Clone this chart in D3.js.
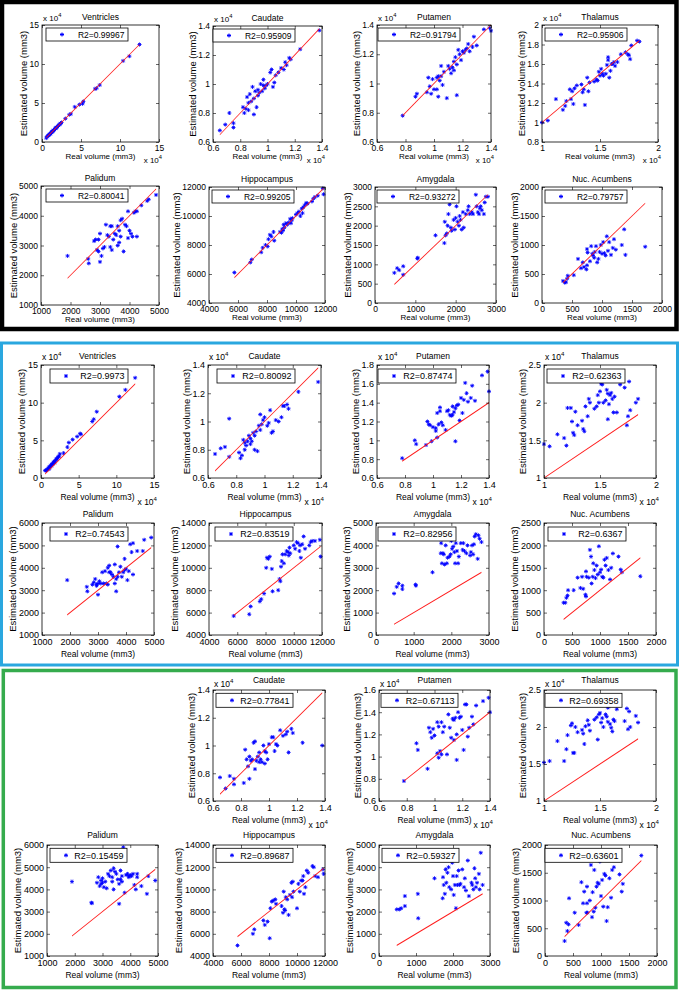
<!DOCTYPE html>
<html>
<head>
<meta charset="utf-8">
<script src="https://cdn.jsdelivr.net/npm/d3@7"></script>
<style>
  body { margin: 0; background: #fff; }
  svg { display: block; font-family: "Liberation Sans", Arial, Helvetica, sans-serif; }
</style>
</head>
<body>
<svg id="fig" width="682" height="992"></svg>
<script>
// ---- data ----
const structureNames = ["Ventricles", "Caudate", "Putamen", "Thalamus", "Palidum", "Hippocampus", "Amygdala", "Nuc. Acumbens"];
// structures whose axes are shown in units of 10^4 mm3
const scaledBy1e4 = [true, true, true, true, false, false, false, false];

const xAxisTicks = [
  [0, 5, 10, 15],
  [0.6, 0.8, 1, 1.2, 1.4],
  [0.6, 0.8, 1, 1.2, 1.4],
  [1, 1.5, 2],
  [1000, 2000, 3000, 4000, 5000],
  [4000, 6000, 8000, 10000, 12000],
  [0, 1000, 2000, 3000],
  [0, 500, 1000, 1500, 2000],
];

// real volumes (x), shared by the three panels
const ventriclesReal = [0.55, 0.65, 0.75, 0.8, 0.9, 1.0, 1.05, 1.1, 1.2, 1.25, 1.3, 1.4, 1.45, 1.5, 1.6, 1.7, 1.75, 1.8, 1.9, 2.0, 2.1, 2.2, 2.3, 2.4, 2.5, 3.0, 3.5, 3.7, 4.2, 4.8, 5.2, 5.3, 6.8, 7.0, 7.4, 10.4, 11.2, 12.5];
const caudateReal = [0.65, 0.69, 0.72, 0.75, 0.75, 0.82, 0.83, 0.84, 0.85, 0.86, 0.86, 0.87, 0.88, 0.89, 0.9, 0.9, 0.91, 0.92, 0.93, 0.93, 0.94, 0.95, 0.96, 0.97, 0.97, 0.98, 0.99, 1.0, 1.02, 1.03, 1.04, 1.05, 1.06, 1.08, 1.1, 1.12, 1.13, 1.14, 1.16, 1.17, 1.24, 1.38];
const putamenReal = [0.78, 0.87, 0.88, 0.95, 0.96, 0.97, 0.98, 0.99, 1.0, 1.02, 1.02, 1.03, 1.03, 1.04, 1.05, 1.05, 1.06, 1.07, 1.09, 1.1, 1.11, 1.12, 1.13, 1.14, 1.14, 1.15, 1.16, 1.16, 1.17, 1.18, 1.19, 1.2, 1.21, 1.22, 1.23, 1.24, 1.25, 1.27, 1.28, 1.3, 1.35, 1.39, 1.4];
const thalamusReal = [1.0, 1.05, 1.12, 1.18, 1.2, 1.21, 1.24, 1.25, 1.26, 1.27, 1.28, 1.3, 1.34, 1.35, 1.36, 1.37, 1.39, 1.4, 1.41, 1.45, 1.47, 1.48, 1.49, 1.5, 1.51, 1.52, 1.53, 1.55, 1.56, 1.57, 1.57, 1.58, 1.59, 1.6, 1.61, 1.62, 1.63, 1.65, 1.68, 1.72, 1.74, 1.75, 1.76, 1.77, 1.82, 1.84];
const palidumReal = [1900, 2600, 2620, 2800, 2850, 2900, 2950, 2950, 3000, 3000, 3050, 3100, 3150, 3200, 3250, 3300, 3350, 3350, 3400, 3400, 3450, 3500, 3550, 3600, 3600, 3650, 3650, 3700, 3700, 3750, 3800, 3850, 3900, 3950, 3950, 4000, 4050, 4100, 4150, 4200, 4250, 4250, 4400, 4600, 4650, 4900];
const hippocampusReal = [5750, 6850, 6950, 7600, 7700, 7900, 8050, 8100, 8200, 8300, 8450, 8500, 8900, 9000, 9050, 9100, 9150, 9200, 9300, 9400, 9500, 9600, 9650, 9700, 9750, 10000, 10100, 10200, 10300, 10400, 10450, 10500, 10600, 10700, 10800, 11100, 11200, 11300, 11500, 11850, 11900];
const amygdalaReal = [480, 550, 600, 700, 700, 1050, 1060, 1500, 1720, 1730, 1750, 1780, 1800, 1820, 1850, 1880, 1900, 1950, 1980, 2000, 2020, 2050, 2080, 2100, 2120, 2150, 2180, 2200, 2250, 2300, 2320, 2350, 2400, 2430, 2500, 2520, 2550, 2580, 2600, 2620, 2650, 2700, 2720, 2750, 2800];
const nucAcumbensReal = [350, 380, 400, 420, 430, 530, 600, 650, 680, 700, 740, 750, 750, 760, 800, 820, 840, 850, 870, 880, 900, 920, 940, 960, 980, 1000, 1020, 1040, 1060, 1080, 1100, 1120, 1150, 1180, 1200, 1230, 1330, 1370, 1390, 1720];

// estimated volumes, panel 1 (black frame)
const ventriclesEst1 = [0.5, 0.7, 0.75, 0.85, 0.9, 1.0, 1.1, 1.05, 1.2, 1.3, 1.3, 1.4, 1.5, 1.5, 1.6, 1.7, 1.8, 1.8, 1.9, 2.0, 2.1, 2.2, 2.3, 2.4, 2.5, 3.0, 3.5, 3.6, 4.5, 4.8, 4.9, 5.2, 6.8, 6.9, 7.3, 10.4, 11.0, 12.5];
const caudateEst1 = [0.68, 0.72, 0.80, 0.73, 0.70, 0.84, 0.80, 0.83, 0.91, 0.82, 0.87, 0.93, 0.88, 0.98, 0.79, 0.90, 0.95, 0.84, 0.92, 0.96, 0.94, 1.00, 0.95, 0.99, 1.03, 0.97, 0.99, 1.00, 1.08, 1.10, 0.98, 1.01, 1.06, 1.08, 1.11, 1.10, 1.15, 1.13, 1.18, 1.17, 1.24, 1.37];
const putamenEst1 = [0.78, 0.91, 0.93, 0.94, 1.04, 0.98, 0.93, 1.03, 0.96, 0.96, 1.04, 0.91, 1.05, 1.02, 1.05, 1.12, 0.99, 1.08, 0.90, 1.12, 1.10, 1.07, 1.11, 1.15, 1.09, 1.18, 0.92, 1.13, 1.23, 1.20, 1.16, 1.22, 1.21, 1.23, 1.24, 1.27, 1.22, 1.25, 1.32, 1.26, 1.37, 1.38, 1.36];
const thalamusEst1 = [1.0, 1.02, 1.24, 1.13, 1.17, 1.22, 1.34, 1.24, 1.32, 1.19, 1.35, 1.38, 1.39, 1.31, 1.34, 1.18, 1.46, 1.32, 1.41, 1.42, 1.44, 1.43, 1.52, 1.48, 1.55, 1.50, 1.48, 1.50, 1.59, 1.67, 1.64, 1.46, 1.53, 1.60, 1.60, 1.62, 1.58, 1.62, 1.70, 1.72, 1.70, 1.69, 1.65, 1.79, 1.84, 1.83];
const palidumEst1 = [2650, 2550, 2400, 3150, 3200, 2850, 3200, 2800, 2450, 3400, 2650, 2900, 2950, 3700, 3350, 3300, 3650, 2950, 3650, 2850, 3200, 3400, 3350, 3000, 3650, 3100, 3500, 3850, 3300, 3900, 2800, 3700, 3650, 3250, 4150, 3500, 3400, 3300, 4100, 4150, 3300, 4150, 4350, 4500, 4550, 4700];
const hippocampusEst1 = [6100, 6800, 7000, 7500, 7800, 8000, 7900, 8400, 8700, 8600, 8900, 8300, 8900, 8850, 9100, 9000, 9400, 9200, 9500, 9400, 9550, 9800, 9500, 9700, 9850, 10100, 10200, 10300, 10000, 10500, 10200, 10600, 10750, 10900, 10850, 11000, 11200, 11300, 11400, 11900, 11500];
const amygdalaEst1 = [780, 900, 850, 950, 730, 1150, 1170, 1750, 1550, 2100, 1750, 1800, 2000, 2300, 2550, 1950, 1870, 2150, 1900, 2200, 2500, 2100, 2000, 2250, 2150, 1900, 2350, 1950, 2300, 2400, 2500, 2300, 2350, 2300, 2800, 2500, 2350, 2300, 2450, 2500, 2400, 2300, 2600, 2750, 2750];
const nucAcumbensEst1 = [380, 350, 360, 420, 470, 480, 760, 600, 700, 620, 580, 650, 930, 870, 720, 980, 850, 820, 780, 880, 980, 700, 760, 880, 1000, 850, 1050, 860, 820, 1150, 900, 1050, 830, 950, 1100, 920, 1000, 1270, 830, 970];

// estimated volumes, panel 2 (blue frame)
const ventriclesEst2 = [1.0, 1.0, 1.0, 1.1, 1.2, 1.3, 1.2, 1.5, 1.4, 1.5, 1.7, 1.6, 1.8, 1.9, 1.9, 2.1, 2.2, 2.0, 2.3, 2.5, 2.5, 2.7, 2.8, 2.9, 3.2, 3.3, 4.1, 4.7, 5.1, 5.5, 5.9, 5.8, 7.5, 7.8, 8.8, 10.8, 11.7, 13.3];
const caudateEst2 = [0.77, 0.81, 0.82, 1.02, 0.75, 0.78, 0.74, 0.76, 0.87, 0.85, 0.80, 0.83, 0.86, 0.90, 0.84, 0.88, 0.86, 0.92, 0.80, 0.90, 0.93, 0.79, 0.97, 1.05, 0.94, 0.98, 1.01, 1.03, 0.97, 0.99, 1.08, 0.92, 0.93, 1.01, 1.00, 1.03, 1.11, 1.11, 1.12, 1.09, 1.21, 1.28];
const putamenEst2 = [0.81, 1.00, 0.96, 0.95, 1.20, 1.17, 1.16, 0.99, 1.14, 1.10, 1.13, 1.03, 1.29, 1.17, 1.35, 1.31, 1.19, 1.16, 1.11, 1.31, 1.32, 1.27, 1.26, 1.36, 1.27, 1.30, 0.99, 1.34, 1.37, 1.38, 1.21, 1.45, 1.29, 1.43, 1.61, 1.50, 1.41, 1.45, 1.58, 1.42, 1.69, 1.73, 1.52];
const thalamusEst2 = [1.45, 1.42, 1.58, 1.53, 1.43, 1.93, 1.93, 1.75, 1.60, 1.57, 1.88, 1.70, 1.76, 1.65, 1.62, 1.95, 1.82, 2.05, 2.00, 1.92, 1.95, 2.10, 2.00, 2.15, 2.25, 2.24, 2.00, 2.03, 2.17, 2.12, 1.78, 1.98, 2.10, 2.13, 2.05, 1.87, 2.08, 1.87, 2.24, 2.20, 1.70, 1.82, 2.28, 1.90, 2.00, 2.05];
const palidumEst2 = [3450, 3150, 2950, 3250, 3350, 3500, 3250, 3200, 2800, 3300, 3400, 3300, 3800, 3300, 3850, 3300, 4000, 3250, 3800, 4100, 3800, 3700, 3600, 3300, 4150, 2950, 3500, 4950, 3600, 3800, 4050, 3600, 3800, 3900, 4400, 3950, 3450, 3850, 5050, 4700, 3700, 5100, 4750, 4750, 5250, 5350];
const hippocampusEst2 = [5700, 5850, 6550, 7000, 7200, 7700, 10000, 10900, 10800, 11000, 9900, 7900, 8000, 9000, 8800, 10100, 10600, 11200, 10400, 11200, 11500, 11400, 11100, 11800, 11300, 12000, 11700, 12300, 12200, 11500, 12000, 10900, 12100, 12800, 11700, 12000, 12300, 12400, 12400, 12500, 11000];
const amygdalaEst2 = [1850, 2150, 2300, 2200, 2050, 2250, 2200, 2800, 3650, 4100, 3200, 3650, 3600, 3150, 4000, 3200, 3450, 3500, 3600, 4200, 3850, 3950, 3700, 3200, 4100, 3750, 3200, 3500, 4100, 3800, 4100, 3750, 3650, 4000, 3550, 3700, 4000, 3600, 4050, 4400, 4500, 3400, 4450, 4300, 4150];
const nucAcumbensEst2 = [720, 720, 830, 880, 1000, 1000, 1280, 1050, 1300, 1030, 900, 860, 1420, 1300, 1280, 1900, 1750, 1150, 1300, 1600, 1450, 1270, 1550, 1350, 1980, 1400, 1460, 1300, 1280, 1680, 1550, 1720, 1450, 1240, 1500, 1820, 1750, 1460, 1400, 1310];

// estimated volumes, panel 3 (green frame, no ventricles)
const caudateEst3 = [0.77, 0.69, 0.78, 0.76, 0.72, 0.73, 0.97, 0.90, 0.85, 0.76, 0.92, 0.89, 0.90, 1.02, 0.83, 1.03, 0.89, 0.92, 0.88, 0.95, 0.90, 0.88, 1.00, 0.87, 0.96, 0.95, 0.90, 1.01, 1.06, 1.06, 0.96, 1.01, 1.00, 1.11, 1.07, 1.08, 1.10, 0.95, 1.12, 1.09, 1.02, 1.00];
const putamenEst3 = [0.78, 1.12, 1.06, 0.89, 1.26, 1.22, 1.17, 1.25, 1.19, 1.03, 1.31, 0.99, 1.27, 1.05, 1.02, 1.31, 1.22, 1.27, 1.02, 1.38, 1.26, 1.17, 1.34, 1.33, 1.15, 1.35, 0.97, 1.20, 1.40, 1.35, 1.36, 1.24, 1.06, 1.47, 1.47, 1.18, 1.26, 1.36, 1.29, 1.46, 1.50, 1.53, 1.40];
const thalamusEst3 = [1.52, 1.54, 1.81, 1.54, 1.70, 1.89, 2.02, 2.05, 1.65, 1.65, 2.00, 1.93, 1.96, 1.91, 1.77, 2.01, 2.09, 2.03, 1.95, 2.10, 2.13, 1.83, 2.17, 2.19, 2.06, 2.12, 2.00, 2.17, 2.14, 2.07, 2.26, 2.28, 2.04, 1.99, 1.94, 2.10, 2.08, 2.24, 2.30, 2.08, 2.25, 1.97, 2.21, 2.00, 2.15, 2.06];
const palidumEst3 = [4350, 3400, 3380, 4300, 4550, 4150, 4400, 4250, 4500, 4300, 4100, 4350, 4050, 4700, 4600, 4850, 4550, 4350, 4950, 4000, 4800, 4700, 4450, 4250, 3350, 4850, 4450, 4350, 4600, 5900, 3850, 4650, 4700, 4600, 4550, 4650, 4600, 4700, 4200, 4000, 4550, 4700, 4150, 3800, 4600, 4400];
const hippocampusEst3 = [4950, 6000, 6400, 7200, 6800, 7100, 5600, 8300, 8900, 9000, 9100, 8700, 8500, 7900, 9800, 8200, 8100, 9300, 9100, 7700, 9500, 10600, 9300, 10700, 9800, 8300, 10500, 9800, 10800, 10800, 11200, 9600, 10200, 11700, 11500, 12100, 12000, 11200, 11100, 11800, 11400];
const amygdalaEst3 = [2100, 2100, 2150, 2700, 2250, 2800, 1700, 3500, 2600, 3550, 3200, 2800, 3900, 3300, 3750, 4000, 3100, 3000, 4200, 3600, 2750, 3200, 2150, 3600, 3200, 3850, 3200, 3250, 3900, 3100, 3500, 2950, 4300, 2700, 3300, 3200, 3000, 3950, 3500, 3100, 3300, 3700, 3000, 4650, 3200];
const nucAcumbensEst3 = [270, 600, 450, 570, 1040, 780, 560, 1330, 950, 1160, 780, 950, 1250, 780, 1000, 1640, 700, 1150, 800, 1550, 870, 1250, 1320, 1300, 1700, 1080, 1370, 890, 1480, 1450, 630, 880, 1400, 1050, 1550, 1600, 1470, 1160, 1300, 1810];

const r2Panel1 = ["0.99967", "0.95909", "0.91794", "0.95906", "0.80041", "0.99205", "0.93272", "0.79757"];
const r2Panel2 = ["0.9973", "0.80092", "0.87474", "0.62363", "0.74543", "0.83519", "0.82956", "0.6367"];
const r2Panel3 = [null, "0.77841", "0.67113", "0.69358", "0.15459", "0.89687", "0.59327", "0.63601"];

const yTicksPanel1 = [
  [0, 5, 10, 15], [0.6, 0.8, 1, 1.2, 1.4], [0.6, 0.8, 1, 1.2, 1.4], [0.8, 1, 1.2, 1.4, 1.6, 1.8, 2],
  [1000, 2000, 3000, 4000, 5000], [4000, 6000, 8000, 10000, 12000], [0, 500, 1000, 1500, 2000, 2500, 3000], [0, 500, 1000, 1500, 2000],
];
const yTicksPanel2 = [
  [0, 5, 10, 15], [0.6, 0.8, 1, 1.2, 1.4], [0.6, 0.8, 1, 1.2, 1.4, 1.6, 1.8], [1, 1.5, 2, 2.5],
  [1000, 2000, 3000, 4000, 5000, 6000], [4000, 6000, 8000, 10000, 12000, 14000], [0, 1000, 2000, 3000, 4000, 5000], [0, 500, 1000, 1500, 2000, 2500],
];
const yTicksPanel3 = [
  null, [0.6, 0.8, 1, 1.2, 1.4], [0.6, 0.8, 1, 1.2, 1.4, 1.6], [1, 1.5, 2, 2.5],
  [1000, 2000, 3000, 4000, 5000, 6000], [4000, 6000, 8000, 10000, 12000, 14000], [0, 1000, 2000, 3000, 4000, 5000], [0, 500, 1000, 1500, 2000],
];

const realVolumes = [ventriclesReal, caudateReal, putamenReal, thalamusReal, palidumReal, hippocampusReal, amygdalaReal, nucAcumbensReal];
const estPanel1 = [ventriclesEst1, caudateEst1, putamenEst1, thalamusEst1, palidumEst1, hippocampusEst1, amygdalaEst1, nucAcumbensEst1];
const estPanel2 = [ventriclesEst2, caudateEst2, putamenEst2, thalamusEst2, palidumEst2, hippocampusEst2, amygdalaEst2, nucAcumbensEst2];
const estPanel3 = [null, caudateEst3, putamenEst3, thalamusEst3, palidumEst3, hippocampusEst3, amygdalaEst3, nucAcumbensEst3];

// ---- layout ----
// axes boxes [left, top, right, bottom] in page pixels
const panels = [
  {
    frame: { color: "#000", width: 4.5, rect: [2, 2, 676.5, 329] },
    est: estPanel1, r2: r2Panel1, yTicks: yTicksPanel1,
    boxes: [
      [42, 25, 159, 142], [213, 26, 322, 142], [377, 25, 491, 142], [542, 25, 658, 142],
      [41, 186, 159, 305], [209, 187, 325, 303], [375, 187, 496, 303], [542, 187, 662, 303],
    ],
    legendDx: [4, 0, 1, 3, 5, 3, 2, 3], legendDy: 3, legendW: 82, legendH: 13,
    tickPad: 2.5, xlabelDy: 17, expDy: 20.5, titleDy: 5.5, expTopDy: 4,
    tickFont: 8.5, labelFont: 8, yLabelFont: 9.5, titleFont: 8.5, legendFont: 8.5,
  },
  {
    frame: { color: "#2aa7df", width: 3, rect: [1.5, 343, 677.5, 665] },
    est: estPanel2, r2: r2Panel2, yTicks: yTicksPanel2,
    boxes: [
      [41, 365, 154, 478], [208, 365, 321, 478], [377, 365, 489, 478], [544, 365, 656, 478],
      [42, 523, 154, 635], [209, 523, 322, 635], [376, 523, 489, 635], [544, 523, 656, 635],
    ],
    legendDx: [9, 9, 1, 3, 8, 6, 2, 4], legendDy: 4, legendW: 78, legendH: 14,
    tickPad: 3.5, xlabelDy: 21.5, expDy: 27, titleDy: 6.5, expTopDy: 5,
    tickFont: 9, labelFont: 8.5, yLabelFont: 9.5, titleFont: 8.5, legendFont: 9,
  },
  {
    frame: { color: "#35ab4d", width: 3.5, rect: [3.3, 670.5, 676, 987.5] },
    est: estPanel3, r2: r2Panel3, yTicks: yTicksPanel3,
    boxes: [
      null, [213, 690, 325, 801], [379, 690, 490, 801], [544, 690, 656, 801],
      [47, 845, 158, 956], [213, 845, 325, 956], [379, 845, 490, 956], [545, 845, 657, 956],
    ],
    legendDx: [0, 3, 2, 1, 3, 3, 3, 0], legendDy: 3.3, legendW: 77, legendH: 14,
    tickPad: 3.5, xlabelDy: 21.5, expDy: 26.5, titleDy: 7, expTopDy: 3,
    tickFont: 9, labelFont: 8.5, yLabelFont: 9.5, titleFont: 8.5, legendFont: 9,
  },
];

const starPath = "M-2,0H2M0,-2V2M-1.4,-1.4L1.4,1.4M-1.4,1.4L1.4,-1.4";
const fmt = d3.format("~g");

const svg = d3.select("#fig");

function styleAxis(axisG, fontSize) {
  axisG.attr("font-family", null).attr("font-size", fontSize);
  axisG.select(".domain").remove();
  axisG.selectAll(".tick line").attr("stroke", "#000").attr("stroke-width", 0.6);
  axisG.selectAll(".tick text").attr("fill", "#000");
}

function addExponent(g, x, y, anchor, fontSize) {
  const t = g.append("text")
    .attr("x", x).attr("y", y)
    .attr("text-anchor", anchor)
    .attr("font-size", fontSize);
  t.append("tspan").text("x 10");
  t.append("tspan").attr("dy", -4).attr("font-size", fontSize * 0.72).text("4");
}

function drawSubplot(panel, i) {
  const box = panel.boxes[i];
  if (!box) return;
  const [x0, y0, x1, y1] = box;
  const xt = xAxisTicks[i];
  const yt = panel.yTicks[i];
  const xs = realVolumes[i];
  const ys = panel.est[i];

  const x = d3.scaleLinear().domain([xt[0], xt[xt.length - 1]]).range([x0, x1]);
  const y = d3.scaleLinear().domain([yt[0], yt[yt.length - 1]]).range([y1, y0]);

  const g = svg.append("g").attr("class", "subplot");

  g.append("rect")
    .attr("x", x0).attr("y", y0)
    .attr("width", x1 - x0).attr("height", y1 - y0)
    .attr("fill", "#fff");

  g.append("g")
    .selectAll("path")
    .data(xs.map((v, k) => [v, ys[k]]))
    .join("path")
    .attr("d", starPath)
    .attr("transform", (d) => `translate(${x(d[0])},${y(d[1])})`)
    .attr("fill", "none")
    .attr("stroke", "#0000ff")
    .attr("stroke-width", 0.9);

  // identity line over the range of real volumes, drawn over the points
  // (as a thin filled band so it keeps its red colour at any slope)
  const [lo, hi] = d3.extent(xs);
  const half = 0.6;
  g.append("path")
    .attr("d", d3.line()([
      [x(lo), y(lo) - half], [x(hi), y(hi) - half],
      [x(hi), y(hi) + half], [x(lo), y(lo) + half],
    ]) + "Z")
    .attr("fill", "#ff1a1a")
    .attr("stroke", "none");

  const bottomAxis = g.append("g")
    .attr("transform", `translate(0,${y1})`)
    .call(d3.axisBottom(x).tickValues(xt).tickFormat(fmt).tickSize(-3).tickPadding(panel.tickPad));
  styleAxis(bottomAxis, panel.tickFont);
  const topAxis = g.append("g")
    .attr("transform", `translate(0,${y0})`)
    .call(d3.axisTop(x).tickValues(xt).tickFormat(() => "").tickSize(-3));
  styleAxis(topAxis, panel.tickFont);
  const leftAxis = g.append("g")
    .attr("transform", `translate(${x0},0)`)
    .call(d3.axisLeft(y).tickValues(yt).tickFormat(fmt).tickSize(-3).tickPadding(3));
  styleAxis(leftAxis, panel.tickFont);
  const rightAxis = g.append("g")
    .attr("transform", `translate(${x1},0)`)
    .call(d3.axisRight(y).tickValues(yt).tickFormat(() => "").tickSize(-3));
  styleAxis(rightAxis, panel.tickFont);

  g.append("rect")
    .attr("x", x0).attr("y", y0)
    .attr("width", x1 - x0).attr("height", y1 - y0)
    .attr("fill", "none")
    .attr("stroke", "#000")
    .attr("stroke-width", 0.8);

  // legend
  const lx = x0 + panel.legendDx[i];
  const ly = y0 + panel.legendDy;
  g.append("rect")
    .attr("x", lx).attr("y", ly)
    .attr("width", panel.legendW).attr("height", panel.legendH)
    .attr("fill", "#fff")
    .attr("stroke", "#000")
    .attr("stroke-width", 0.8);
  g.append("path")
    .attr("d", starPath)
    .attr("transform", `translate(${lx + 16},${ly + panel.legendH / 2})`)
    .attr("fill", "none")
    .attr("stroke", "#0000ff");
  g.append("text")
    .attr("x", lx + panel.legendW - 3.5)
    .attr("y", ly + panel.legendH / 2 + 3.2)
    .attr("text-anchor", "end")
    .attr("font-size", panel.legendFont)
    .text("R2=" + panel.r2[i]);

  // title and labels
  g.append("text")
    .attr("x", (x0 + x1) / 2)
    .attr("y", y0 - panel.titleDy)
    .attr("text-anchor", "middle")
    .attr("font-size", panel.titleFont)
    .text(structureNames[i]);

  g.append("text")
    .attr("x", (x0 + x1) / 2)
    .attr("y", y1 + panel.xlabelDy)
    .attr("text-anchor", "middle")
    .attr("font-size", panel.labelFont)
    .text("Real volume (mm3)");

  const tickWidth = d3.max(leftAxis.selectAll(".tick text").nodes(), (n) => n.getComputedTextLength());
  const ylx = x0 - 3 - tickWidth - 2.5;
  g.append("text")
    .attr("transform", `translate(${ylx},${(y0 + y1) / 2}) rotate(-90)`)
    .attr("text-anchor", "middle")
    .attr("font-size", panel.yLabelFont)
    .text("Estimated volume (mm3)");

  if (scaledBy1e4[i]) {
    addExponent(g, x0 + 1, y0 - panel.expTopDy, "start", panel.labelFont);
    addExponent(g, x1 + 3, y1 + panel.expDy, "end", panel.labelFont);
  }
}

panels.forEach((panel) => {
  const [fx0, fy0, fx1, fy1] = panel.frame.rect;
  svg.append("rect")
    .attr("x", fx0).attr("y", fy0)
    .attr("width", fx1 - fx0).attr("height", fy1 - fy0)
    .attr("fill", "none")
    .attr("stroke", panel.frame.color)
    .attr("stroke-width", panel.frame.width);
  structureNames.forEach((_, i) => drawSubplot(panel, i));
});
</script>
</body>
</html>
